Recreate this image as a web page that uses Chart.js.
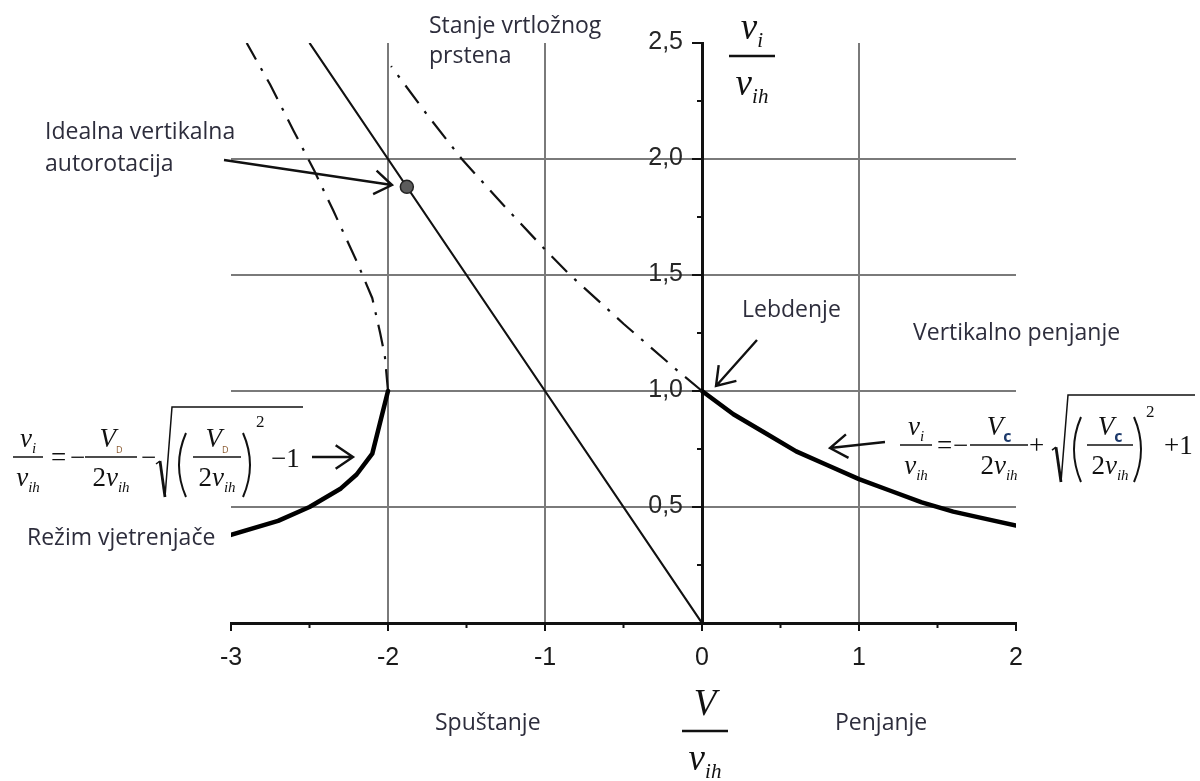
<!DOCTYPE html>
<html>
<head>
<meta charset="utf-8">
<title>Inducirana brzina</title>
<script src="https://cdn.jsdelivr.net/npm/chart.js@4.4.1/dist/chart.umd.min.js"></script>
<style>
  body { margin: 0; background: #ffffff; }
</style>
</head>
<body>
<canvas id="chart" width="1200" height="781"></canvas>
<script>
// values: x = V/v_ih, y = v_i/v_ih
const climbX = [0, 0.2, 0.4, 0.6, 0.8, 1.0, 1.2, 1.4, 1.6, 1.8, 2.0];
const climbY = [1.0, 0.9, 0.82, 0.74, 0.68, 0.62, 0.57, 0.52, 0.48, 0.45, 0.42];

const windmillX = [-2.0, -2.1, -2.2, -2.3, -2.5, -2.7, -3.0];
const windmillY = [1.0, 0.73, 0.64, 0.58, 0.5, 0.44, 0.38];

const upperX = [-2.0, -2.02, -2.05, -2.1, -2.2, -2.35, -2.47, -2.6, -2.75, -2.9];
const upperY = [1.0, 1.15, 1.25, 1.4, 1.56, 1.78, 1.95, 2.12, 2.32, 2.5];

const vrsX = [0, -0.16, -0.5, -0.84, -1.0, -1.25, -1.53, -1.75, -1.98];
const vrsY = [1.0, 1.09, 1.29, 1.5, 1.61, 1.79, 2.0, 2.19, 2.4];

const idealX = [0, -1, -2, -2.5];
const idealY = [0, 1, 2, 2.5];

const autorotX = [-1.88];
const autorotY = [1.88];

const xTicks = [-3, -2, -1, 0, 1, 2];
const xTickLabels = ['-3', '-2', '-1', '0', '1', '2'];
const yTicks = [0.5, 1.0, 1.5, 2.0, 2.5];
const yTickLabels = ['0,5', '1,0', '1,5', '2,0', '2,5'];

const xGrid = [-2, -1, 1];
const yGrid = [0.5, 1.0, 1.5, 2.0];

function toPoints(xs, ys) {
  return xs.map((x, i) => ({ x: x, y: ys[i] }));
}

const sans = "'Open Sans', Lato, sans-serif";
const serif = "'Liberation Serif', 'DejaVu Serif', serif";
const tickFont = '"Liberation Sans", Arial, sans-serif';
const labelColor = '#2d2d3c';

function it(t, size, dy) {
  return { t: t, font: 'italic ' + size + 'px ' + serif, dy: dy || 0 };
}
function up(t, size, dy) {
  return { t: t, font: size + 'px ' + serif, dy: dy || 0 };
}

// draws a row of text pieces, returns its width
function run(ctx, parts, x, y, draw) {
  let cx = x;
  parts.forEach(p => {
    ctx.font = p.font;
    if (draw) {
      ctx.fillStyle = p.color || '#111';
      ctx.fillText(p.t, cx, y + p.dy);
    }
    cx += ctx.measureText(p.t).width;
  });
  return cx - x;
}

function frac(ctx, cx, bar, half, num, den, numOff, denOff, lw) {
  ctx.strokeStyle = '#111';
  ctx.lineWidth = lw;
  ctx.beginPath();
  ctx.moveTo(cx - half, bar);
  ctx.lineTo(cx + half, bar);
  ctx.stroke();
  const wn = run(ctx, num, 0, 0, false);
  run(ctx, num, cx - wn / 2, bar - numOff, true);
  const wd = run(ctx, den, 0, 0, false);
  run(ctx, den, cx - wd / 2, bar + denOff, true);
}

function radical(ctx, x, top, bottom, end) {
  const mid = bottom - (bottom - top) * 0.4;
  ctx.strokeStyle = '#111';
  ctx.lineWidth = 1.5;
  ctx.beginPath();
  ctx.moveTo(x, mid + 3);
  ctx.lineTo(x + 4, mid);
  ctx.stroke();
  ctx.lineWidth = 2.8;
  ctx.beginPath();
  ctx.moveTo(x + 4, mid);
  ctx.lineTo(x + 9, bottom);
  ctx.stroke();
  ctx.lineWidth = 1.5;
  ctx.beginPath();
  ctx.moveTo(x + 9, bottom);
  ctx.lineTo(x + 16, top);
  ctx.lineTo(end, top);
  ctx.stroke();
}

function paren(ctx, x, top, bottom, left) {
  const w = 10;
  ctx.strokeStyle = '#111';
  ctx.lineWidth = 2;
  ctx.beginPath();
  if (left) {
    ctx.moveTo(x + w, top);
    ctx.quadraticCurveTo(x - 4, (top + bottom) / 2, x + w, bottom);
  } else {
    ctx.moveTo(x, top);
    ctx.quadraticCurveTo(x + w + 4, (top + bottom) / 2, x, bottom);
  }
  ctx.stroke();
}

function arrow(ctx, x1, y1, x2, y2) {
  const a = Math.atan2(y2 - y1, x2 - x1);
  const len = 21, spread = 0.6;
  ctx.strokeStyle = '#111';
  ctx.lineWidth = 2.4;
  ctx.beginPath();
  ctx.moveTo(x1, y1);
  ctx.lineTo(x2, y2);
  ctx.moveTo(x2 - len * Math.cos(a - spread), y2 - len * Math.sin(a - spread));
  ctx.lineTo(x2, y2);
  ctx.lineTo(x2 - len * Math.cos(a + spread), y2 - len * Math.sin(a + spread));
  ctx.stroke();
}

const extras = {
  id: 'extras',
  afterDraw(chart) {
    const ctx = chart.ctx;
    const xs = chart.scales.x;
    const ys = chart.scales.y;
    const x0 = xs.getPixelForValue(0);
    const yb = ys.getPixelForValue(0);
    ctx.save();

    // tick marks
    ctx.strokeStyle = '#111';
    ctx.lineWidth = 2;
    xs.ticks.forEach(t => {
      const px = xs.getPixelForValue(t.value);
      const len = xTicks.includes(t.value) ? 8 : 5;
      ctx.beginPath();
      ctx.moveTo(px, yb);
      ctx.lineTo(px, yb + len);
      ctx.stroke();
    });
    ys.ticks.forEach(t => {
      if (t.value === 0) return;
      const py = ys.getPixelForValue(t.value);
      const len = yTicks.includes(t.value) ? 10 : 5;
      ctx.beginPath();
      ctx.moveTo(x0 - len, py);
      ctx.lineTo(x0, py);
      ctx.stroke();
    });

    // y tick labels sit left of the centre axis
    ctx.font = '25px ' + tickFont;
    ctx.fillStyle = '#262626';
    ctx.textAlign = 'right';
    ctx.textBaseline = 'middle';
    yTicks.forEach((v, i) => {
      ctx.fillText(yTickLabels[i], x0 - 19, ys.getPixelForValue(v) - 1);
    });

    // annotations
    ctx.textAlign = 'left';
    ctx.textBaseline = 'alphabetic';
    ctx.font = '23px ' + sans;
    ctx.fillStyle = labelColor;
    ctx.fillText('Idealna vertikalna', 45, 139);
    ctx.fillText('autorotacija', 45, 171);
    ctx.fillText('Stanje vrtložnog', 429, 33);
    ctx.fillText('prstena', 429, 63);
    ctx.fillText('Lebdenje', 742, 317);
    ctx.fillText('Vertikalno penjanje', 913, 340);
    ctx.fillText('Režim vjetrenjače', 27, 545);
    ctx.fillText('Spuštanje', 435, 730);
    ctx.fillText('Penjanje', 835, 730);

    arrow(ctx, 224, 160, 392, 185);
    arrow(ctx, 757, 340, 716, 386);
    arrow(ctx, 312, 457, 353, 457);
    arrow(ctx, 885, 442, 830, 448);

    // formula pieces
    const vi = [it('v', 27), it('i', 15, 6)];
    const vih = [it('v', 27), it('ih', 15, 6)];
    const twoVih = [up('2', 27), it('v', 27), it('ih', 15, 6)];
    const vD = [it('V', 27), { t: 'D', font: '9px ' + sans, dy: 6, color: '#8a5a30' }];
    const vC = [it('V', 27), { t: 'c', font: 'bold 16px ' + sans, dy: 7, color: '#1d3a6b' }];

    // left: windmill branch
    frac(ctx, 28, 457, 15, vi, vih, 10, 29, 1.5);
    run(ctx, [up('=', 27)], 51, 466, true);
    run(ctx, [up('\u2212', 27)], 70, 466, true);
    frac(ctx, 111, 457, 26, vD, twoVih, 10, 29, 1.5);
    run(ctx, [up('\u2212', 27)], 141, 466, true);
    radical(ctx, 156, 407, 497, 303);
    paren(ctx, 176, 433, 497, true);
    frac(ctx, 217, 457, 24, vD, twoVih, 10, 29, 1.5);
    paren(ctx, 243, 433, 497, false);
    run(ctx, [up('2', 17)], 256, 427, true);
    run(ctx, [up('\u22121', 27)], 271, 467, true);

    // right: climb branch
    frac(ctx, 916, 445, 16, vi, vih, 10, 29, 1.5);
    run(ctx, [up('=', 27)], 937, 454, true);
    run(ctx, [up('\u2212', 27)], 953, 454, true);
    frac(ctx, 999, 445, 29, vC, twoVih, 10, 29, 1.5);
    run(ctx, [up('+', 27)], 1029, 454, true);
    radical(ctx, 1052, 395, 482, 1195);
    paren(ctx, 1071, 417, 482, true);
    frac(ctx, 1110, 445, 23, vC, twoVih, 10, 29, 1.5);
    paren(ctx, 1134, 417, 482, false);
    run(ctx, [up('2', 17)], 1146, 417, true);
    run(ctx, [up('+1', 27)], 1164, 454, true);

    // axis titles
    frac(ctx, 752, 56, 23, [it('v', 37), it('i', 21, 8)], [it('v', 37), it('ih', 21, 8)], 17, 39, 2.6);
    frac(ctx, 705, 731, 23, [it('V', 37)], [it('v', 37), it('ih', 21, 8)], 16, 39, 2.6);

    ctx.restore();
  }
};

new Chart(document.getElementById('chart'), {
  type: 'scatter',
  data: {
    datasets: [
      {
        label: 'Idealna vertikalna autorotacija',
        data: toPoints(autorotX, autorotY),
        pointRadius: 6.5,
        pointBackgroundColor: '#5c5c5c',
        pointBorderColor: '#222',
        pointBorderWidth: 1.5
      },
      {
        label: 'Penjanje',
        data: toPoints(climbX, climbY),
        showLine: true,
        borderColor: '#000',
        borderWidth: 4.5,
        borderCapStyle: 'round',
        borderJoinStyle: 'round',
        pointRadius: 0
      },
      {
        label: 'Režim vjetrenjače',
        data: toPoints(windmillX, windmillY),
        showLine: true,
        borderColor: '#000',
        borderWidth: 4.5,
        borderCapStyle: 'round',
        borderJoinStyle: 'round',
        pointRadius: 0
      },
      {
        label: 'v_i = -V',
        data: toPoints(idealX, idealY),
        showLine: true,
        borderColor: '#111',
        borderWidth: 2.2,
        pointRadius: 0
      },
      {
        label: 'Stanje vrtložnog prstena',
        data: toPoints(vrsX, vrsY),
        showLine: true,
        borderColor: '#111',
        borderWidth: 2.2,
        borderDash: [22, 10, 3, 10],
        pointRadius: 0
      },
      {
        label: 'Gornja grana',
        data: toPoints(upperX, upperY),
        showLine: true,
        borderColor: '#111',
        borderWidth: 2.2,
        borderDash: [22, 10, 3, 10],
        pointRadius: 0
      }
    ]
  },
  options: {
    responsive: false,
    animation: false,
    events: [],
    layout: { padding: { left: 231, right: 184, top: 43, bottom: 98 } },
    plugins: {
      legend: { display: false },
      tooltip: { enabled: false }
    },
    scales: {
      x: {
        type: 'linear',
        position: 'bottom',
        min: -3,
        max: 2,
        afterFit: function (scale) { scale.height = 60; },
        ticks: {
          stepSize: 0.5,
          autoSkip: false,
          maxRotation: 0,
          padding: 20,
          color: '#1a1a1a',
          font: { family: tickFont, size: 25 },
          callback: function (value) {
            const i = xTicks.indexOf(value);
            return i >= 0 ? xTickLabels[i] : '';
          }
        },
        grid: {
          drawTicks: false,
          lineWidth: 2,
          color: ctx => xGrid.includes(ctx.tick.value) ? '#7a7a7a' : 'rgba(0,0,0,0)'
        },
        border: { display: true, color: '#111', width: 3 }
      },
      y: {
        type: 'linear',
        position: { x: 0 },
        min: 0,
        max: 2.5,
        ticks: { stepSize: 0.25, display: false },
        grid: {
          drawTicks: false,
          lineWidth: 2,
          color: ctx => yGrid.includes(ctx.tick.value) ? '#7a7a7a' : 'rgba(0,0,0,0)'
        },
        border: { display: true, color: '#111', width: 3 }
      }
    }
  },
  plugins: [extras]
});
</script>
</body>
</html>
